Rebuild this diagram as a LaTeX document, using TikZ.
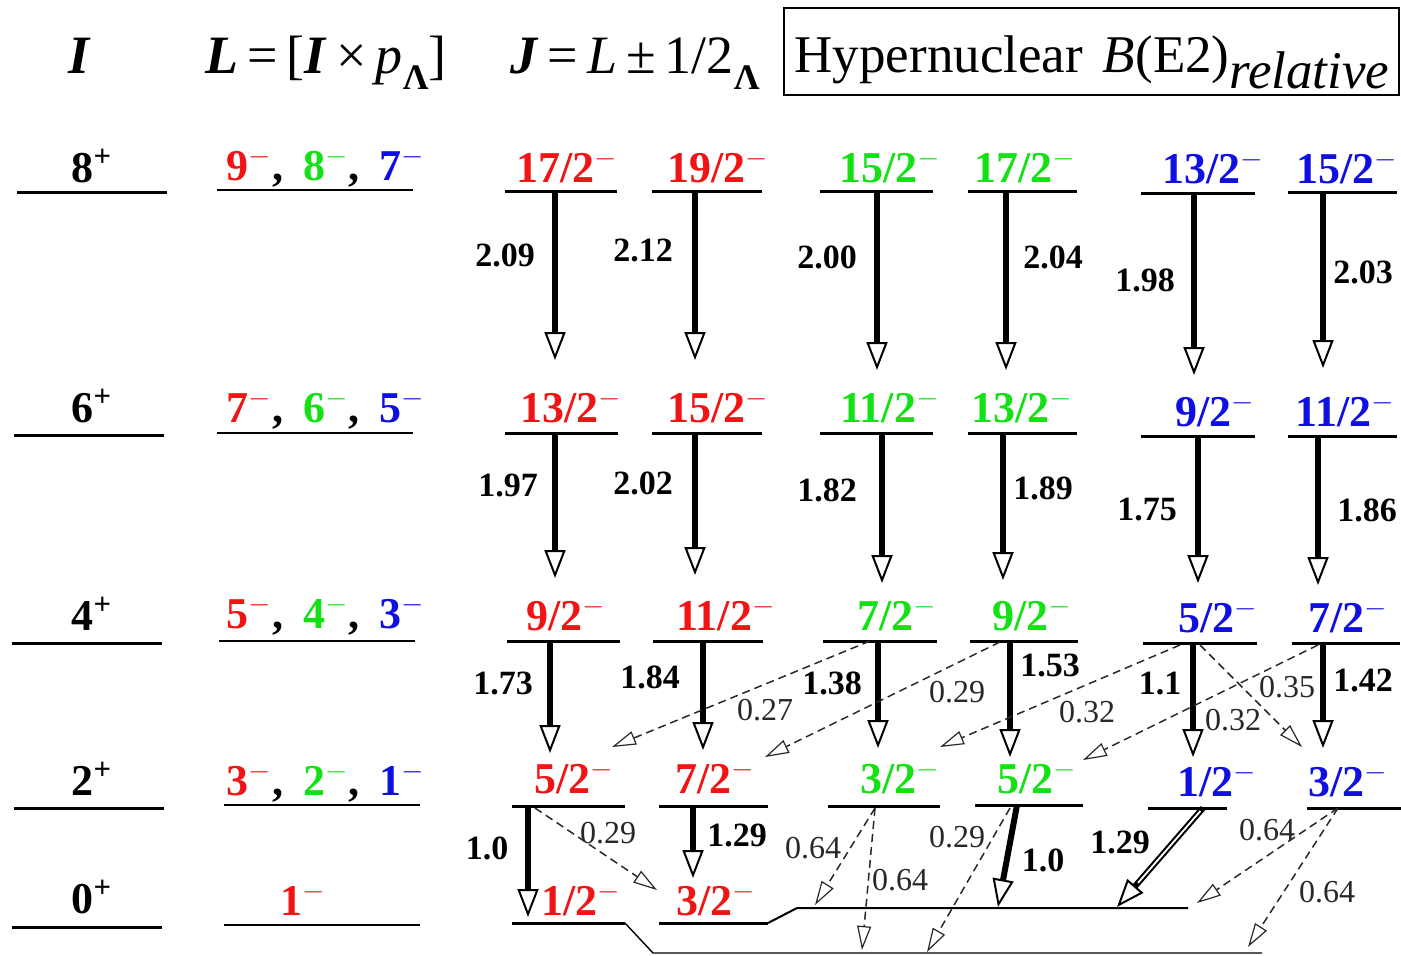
\documentclass[tikz,border=0pt]{standalone}
\usepackage{fontspec}
\setmainfont{Liberation Serif}
\usetikzlibrary{arrows.meta}
\definecolor{jred}{RGB}{240,20,20}
\definecolor{jgreen}{RGB}{20,225,20}
\definecolor{jblue}{RGB}{15,15,225}
\definecolor{dgray}{RGB}{40,40,40}
% name, x1, x2, y, colour, text, label x, label baseline y
\newcommand\jlevel[8]{%
  \coordinate (#1L) at (#2,#4); \coordinate (#1R) at (#3,#4);
  \draw[lvl] (#1L) -- (#1R);
  \node[jlab, text=#5, anchor=base] (#1t) at (#7,#8) {#6$^{-}$};}
% name, start, end, style, label style, label pos, text
\newcommand\jarrow[7]{%
  \coordinate (#1s) at (#2); \coordinate (#1e) at (#3);
  \draw[#4] (#1s) -- (#1e);
  \node[#5] (#1n) at (#6) {#7};}
\begin{document}
\begin{tikzpicture}[x=0.5pt,y=-0.5pt,
  lvl/.style={line width=1.5pt},
  llvl/.style={line width=1.1pt},
  jlab/.style={font=\fontsize{22}{26}\selectfont\bfseries, inner sep=0pt},
  hfont/.style={font=\fontsize{27}{31}\selectfont, inner sep=0pt},
  vlab/.style={font=\fontsize{17}{20}\selectfont\bfseries, inner sep=0pt},
  dlab/.style={font=\fontsize{16}{19}\selectfont, text=dgray, inner sep=0pt},
  solidarr/.style={line width=3pt, -{Triangle[open, length=14pt, width=10.5pt, line width=1pt]}},
  dasharr/.style={line width=0.75pt, dgray, dash pattern=on 4pt off 2.5pt,
     -{Triangle[open, length=12pt, width=7pt, line width=0.6pt]}}]
\useasboundingbox (0,0) rectangle (1401,955);

% ---------- header ----------
\node[hfont, anchor=base] (hI) at (80,73) {\textbf{\textit{I}}};
\node[hfont, anchor=base west] (hL) at (205,73)
  {\textbf{\textit{L}}\,=\,[\textbf{\textit{I}}\,×\,\textit{p}\raisebox{-8pt}{\fontsize{18}{20}\selectfont\bfseries Λ}]};
\node[hfont, anchor=base west] (hJ) at (510,73)
  {\textbf{\textit{J}}\,=\,\textit{L}\,±\,1/2\raisebox{-8pt}{\fontsize{18}{20}\selectfont\bfseries Λ}};
\node[draw, line width=1pt, minimum width=307.5pt, minimum height=43.5pt, inner sep=0pt] (box) at (1091.5,51.5) {};
\node[font=\fontsize{26.5}{30}\selectfont, inner sep=0pt, anchor=base] (boxt) at (1092,72)
  {Hypernuclear\hspace{10pt}\textit{B}(E2)\raisebox{-8pt}{\itshape relative}};

% ---------- I column ----------
\foreach \n/\lab/\xa/\xb/\yl/\yb in {i8/8/17/167/192/182, i6/6/14/164/435/422, i4/4/12/162/643/630, i2/2/14/164/808/795, i0/0/12/162/927/913}{
  \coordinate (\n L) at (\xa,\yl); \coordinate (\n R) at (\xb,\yl);
  \draw[lvl] (\n L) -- (\n R);
  \node[jlab, anchor=base] (\n t) at (92,\yb) {\lab\textsuperscript{+}};
}

% ---------- L column ----------
\foreach \n/\a/\b/\c/\xa/\xb/\yl/\yb in {l8/9/8/7/217/413/190/180, l6/7/6/5/217/413/433/422, l4/5/4/3/219/415/641/628, l2/3/2/1/224/420/805/795}{
  \coordinate (\n L) at (\xa,\yl); \coordinate (\n R) at (\xb,\yl);
  \draw[llvl] (\n L) -- (\n R);
  \node[jlab, anchor=base] (\n t) at (326,\yb)
    {\textcolor{jred}{\a$^{-}$},\hspace{10pt}\textcolor{jgreen}{\b$^{-}$},\hspace{10pt}\textcolor{jblue}{\c$^{-}$}};
}
\coordinate (l0L) at (224,925); \coordinate (l0R) at (420,925);
\draw[llvl] (l0L) -- (l0R);
\node[jlab, anchor=base, text=jred] (l0t) at (303,915) {1$^{-}$};

% ---------- J levels ----------
\jlevel{RA8}{505}{617}{191}{jred}{17/2}{567}{182}
\jlevel{RB8}{652}{762}{191}{jred}{19/2}{718}{182}
\jlevel{GA8}{820}{933}{191}{jgreen}{15/2}{890}{182}
\jlevel{GB8}{968}{1077}{191}{jgreen}{17/2}{1025}{182}
\jlevel{BA8}{1141}{1255}{193}{jblue}{13/2}{1213}{183}
\jlevel{BB8}{1288}{1397}{192}{jblue}{15/2}{1347}{183}

\jlevel{RA6}{505}{618}{433}{jred}{13/2}{571}{422}
\jlevel{RB6}{652}{762}{433}{jred}{15/2}{718}{422}
\jlevel{GA6}{820}{933}{433}{jgreen}{11/2}{890}{422}
\jlevel{GB6}{968}{1077}{433}{jgreen}{13/2}{1022}{422}
\jlevel{BA6}{1141}{1255}{436}{jblue}{9/2}{1215}{426}
\jlevel{BB6}{1288}{1397}{436}{jblue}{11/2}{1345}{426}

\jlevel{RA4}{507}{620}{641}{jred}{9/2}{566}{630}
\jlevel{RB4}{653}{763}{641}{jred}{11/2}{726}{630}
\jlevel{GA4}{823}{937}{641}{jgreen}{7/2}{897}{630}
\jlevel{GB4}{970}{1078}{641}{jgreen}{9/2}{1032}{630}
\jlevel{BA4}{1143}{1257}{643}{jblue}{5/2}{1218}{632}
\jlevel{BB4}{1292}{1400}{643}{jblue}{7/2}{1348}{632}

\jlevel{RA2}{512}{625}{806}{jred}{5/2}{574}{793}
\jlevel{RB2}{659}{768}{806}{jred}{7/2}{715}{793}
\jlevel{GA2}{828}{940}{806}{jgreen}{3/2}{900}{793}
\jlevel{GB2}{975}{1083}{805}{jgreen}{5/2}{1037}{793}
\jlevel{BA2}{1148}{1227}{808}{jblue}{1/2}{1217}{796}
\jlevel{BB2}{1307}{1401}{808}{jblue}{3/2}{1348}{796}

\jlevel{RA0}{512}{625}{923}{jred}{1/2}{581}{915}
\jlevel{RB0}{659}{768}{923}{jred}{3/2}{716}{915}

% bottom continuation lines
\coordinate (b1) at (653,953); \coordinate (b2) at (1262,953);
\draw[line width=0.7pt] (RA0R) -- (b1) -- (b2);
\coordinate (c1) at (797,908); \coordinate (c2) at (1188,908);
\draw[line width=1pt] (RB0R) -- (c1) -- (c2);

% ---------- solid transitions ----------
\jarrow{t1}{555,191}{555,360}{solidarr}{vlab}{505,255}{2.09}
\jarrow{t2}{695,191}{695,360}{solidarr}{vlab}{643,250}{2.12}
\jarrow{t3}{877,191}{877,370}{solidarr}{vlab}{827,257}{2.00}
\jarrow{t4}{1006,191}{1006,370}{solidarr}{vlab}{1053,257}{2.04}
\jarrow{t5}{1194,193}{1194,375}{solidarr}{vlab}{1145,280}{1.98}
\jarrow{t6}{1323,192}{1323,368}{solidarr}{vlab}{1363,272}{2.03}

\jarrow{t7}{555,433}{555,578}{solidarr}{vlab}{508,485}{1.97}
\jarrow{t8}{695,433}{695,575}{solidarr}{vlab}{643,483}{2.02}
\jarrow{t9}{882,433}{882,583}{solidarr}{vlab}{827,490}{1.82}
\jarrow{t10}{1003,433}{1003,580}{solidarr}{vlab}{1043,488}{1.89}
\jarrow{t11}{1198,436}{1198,583}{solidarr}{vlab}{1147,510}{1.75}
\jarrow{t12}{1318,436}{1318,585}{solidarr}{vlab}{1367,510}{1.86}

\jarrow{t13}{550,641}{550,753}{solidarr}{vlab}{503,683}{1.73}
\jarrow{t14}{703,641}{703,750}{solidarr}{vlab}{650,677}{1.84}
\jarrow{t15}{878,641}{878,748}{solidarr}{vlab}{832,683}{1.38}
\jarrow{t16}{1010,641}{1010,757}{solidarr}{vlab}{1050,665}{1.53}
\jarrow{t17}{1193,643}{1193,757}{solidarr}{vlab}{1160,683}{1.1}
\jarrow{t18}{1323,643}{1323,748}{solidarr}{vlab}{1363,680}{1.42}

\jarrow{t19}{528,806}{528,917}{solidarr}{vlab}{487,848}{1.0}
\jarrow{t20}{693,806}{693,878}{solidarr}{vlab}{737,835}{1.29}
\jarrow{t21}{1017,805}{998,907}{solidarr}{vlab}{1043,860}{1.0}
\jarrow{t22}{1203,808}{1117,907}{solidarr}{vlab}{1120,842}{1.29}
\draw[white, line width=0.9pt, shorten <=2pt, shorten >=16pt] (t22s) -- (t22e);

% ---------- dashed transitions ----------
\jarrow{d1}{870,641}{612,747}{dasharr}{dlab}{765,710}{0.27}
\jarrow{d2}{1000,642}{765,757}{dasharr}{dlab}{957,692}{0.29}
\jarrow{d3}{1180,645}{940,747}{dasharr}{dlab}{1087,712}{0.32}
\jarrow{d4}{1318,645}{1083,760}{dasharr}{dlab}{1233,720}{0.32}
\jarrow{d5}{1200,645}{1302,747}{dasharr}{dlab}{1287,687}{0.35}
\jarrow{d6}{535,808}{657,890}{dasharr}{dlab}{608,833}{0.29}
\jarrow{d7}{875,808}{815,905}{dasharr}{dlab}{813,848}{0.64}
\jarrow{d8}{875,808}{862,950}{dasharr}{dlab}{900,880}{0.64}
\jarrow{d9}{1010,808}{927,952}{dasharr}{dlab}{957,837}{0.29}
\jarrow{d10}{1338,808}{1197,903}{dasharr}{dlab}{1267,830}{0.64}
\jarrow{d11}{1338,808}{1248,947}{dasharr}{dlab}{1327,892}{0.64}
\end{tikzpicture}
\end{document}
